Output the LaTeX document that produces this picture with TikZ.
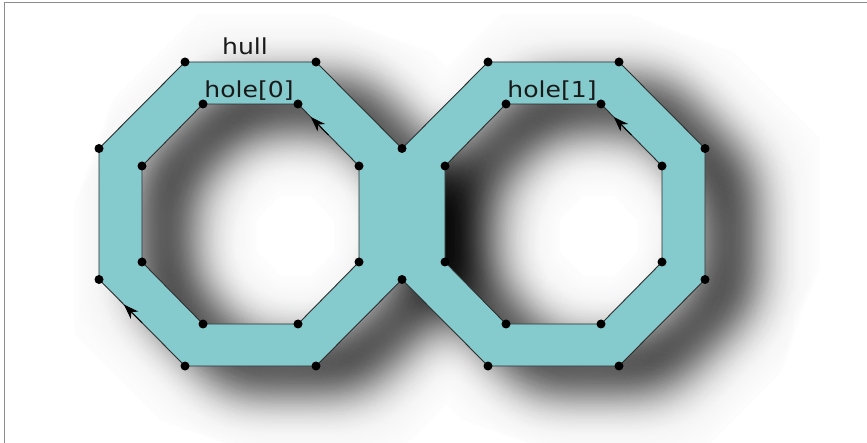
\documentclass[tikz,border=0pt]{standalone}
\usepackage{fontspec}
\newfontfamily\labfont[FakeStretch=1.14]{DejaVu Sans}
\usetikzlibrary{calc,arrows.meta}
\definecolor{hullfill}{RGB}{133,202,205}
\definecolor{edgecol}{RGB}{45,45,45}
\definecolor{framecol}{RGB}{140,140,140}
\definecolor{textcol}{RGB}{25,25,25}
\newcommand\hullshape{%
  (185,62) -- (316,62) -- (402,148.5) -- (488,62) -- (619,62) -- (705,148.5) -- (705,279.5) -- (619,366) -- (488,366) -- (402,279.5) -- (316,366) -- (185,366) -- (99,279.5) -- (99,148.5) -- cycle
  (203,104) -- (298,104) -- (359,166) -- (359,262) -- (298,324) -- (203,324) -- (142,262) -- (142,166) -- cycle
  (506,104) -- (601,104) -- (662,166) -- (662,262) -- (601,324) -- (506,324) -- (445,262) -- (445,166) -- cycle}
\def\blurofs{9,-9,8,-8,7,-7,6,-6,5,-5,4,-4,3,-3,2,-2,1,-1,0}
\tikzset{
  edgeline/.style={draw=edgecol, line width=0.9pt, line join=round},
  vdot/.style={fill=black},
  dirarrow/.style={draw=black, line width=0.9pt, -{Stealth[length=15pt,width=10.5pt,inset=4.5pt]}},
  lab/.style={text=textcol, font=\labfont\fontsize{22pt}{26pt}\selectfont, anchor=base, inner sep=0pt},
  frameline/.style={draw=framecol, line width=1.5pt}
}
\begin{document}
\begin{tikzpicture}[x=1pt,y=-1pt]
\useasboundingbox (0,0) rectangle (867,443);
% blurred shadow: separable running average of shifted copies
\gdef\Wout{0}
\foreach \j in \blurofs {%
  \pgfmathsetmacro\wj{exp(-36*(\j)*(\j)/1352)}%
  \pgfmathsetmacro\tmpW{\Wout+\wj}\global\let\Wout\tmpW
  \pgfmathsetmacro\aj{\wj/\Wout}%
  \begin{scope}[opacity=\aj]
  \begin{scope}[transparency group]
    \gdef\Win{0}%
    \foreach \i in \blurofs {%
      \pgfmathsetmacro\wi{exp(-36*(\i)*(\i)/1352)}%
      \pgfmathsetmacro\tmpV{\Win+\wi}\global\let\Win\tmpV
      \pgfmathsetmacro\ai{\wi/\Win}%
      \pgfmathsetmacro\px{45+6*((\i)*cos(20)-(\j)*sin(20))}%
      \pgfmathsetmacro\py{22+6*((\i)*sin(20)+(\j)*cos(20))}%
      \begin{scope}[opacity=\ai]
      \begin{scope}[transparency group]
        \fill[white,fill opacity=1] (-10,-10) rectangle (877,453);
        \fill[black,fill opacity=1,even odd rule,shift={(\px,\py)}] \hullshape;
      \end{scope}
      \end{scope}
    }%
  \end{scope}
  \end{scope}
}
% named vertices
\coordinate (H1) at (185,62);   \coordinate (H2) at (316,62);
\coordinate (H3) at (402,148.5); \coordinate (H4) at (488,62);
\coordinate (H5) at (619,62);   \coordinate (H6) at (705,148.5);
\coordinate (H7) at (705,279.5); \coordinate (H8) at (619,366);
\coordinate (H9) at (488,366);  \coordinate (H10) at (402,279.5);
\coordinate (H11) at (316,366); \coordinate (H12) at (185,366);
\coordinate (H13) at (99,279.5); \coordinate (H14) at (99,148.5);
\coordinate (A1) at (203,104); \coordinate (A2) at (298,104);
\coordinate (A3) at (359,166); \coordinate (A4) at (359,262);
\coordinate (A5) at (298,324); \coordinate (A6) at (203,324);
\coordinate (A7) at (142,262); \coordinate (A8) at (142,166);
\coordinate (B1) at (506,104); \coordinate (B2) at (601,104);
\coordinate (B3) at (662,166); \coordinate (B4) at (662,262);
\coordinate (B5) at (601,324); \coordinate (B6) at (506,324);
\coordinate (B7) at (445,262); \coordinate (B8) at (445,166);
% polygon with holes
\fill[hullfill,even odd rule] \hullshape;
\draw[edgeline] (H1) -- (H2) -- (H3) -- (H4) -- (H5) -- (H6) -- (H7) -- (H8) -- (H9) -- (H10) -- (H11) -- (H12) -- (H13) -- (H14) -- cycle;
\draw[edgeline] (A1) -- (A2) -- (A3) -- (A4) -- (A5) -- (A6) -- (A7) -- (A8) -- cycle;
\draw[edgeline] (B1) -- (B2) -- (B3) -- (B4) -- (B5) -- (B6) -- (B7) -- (B8) -- cycle;
% direction arrows
\draw[dirarrow] ($(H12)!0.5!(H13)$) -- ($(H12)!0.71!(H13)$);
\draw[dirarrow] ($(A3)!0.5!(A2)$) -- ($(A3)!0.79!(A2)$);
\draw[dirarrow] ($(B3)!0.5!(B2)$) -- ($(B3)!0.79!(B2)$);
% vertices
\foreach \v in {H1,H2,H3,H4,H5,H6,H7,H8,H9,H10,H11,H12,H13,H14,A1,A2,A3,A4,A5,A6,A7,A8,B1,B2,B3,B4,B5,B6,B7,B8}
  \fill[vdot] (\v) circle (4.5pt);
% labels
\node[lab] (lhull) at (245,55) {hull};
\node[lab] (lh0) at (249,98) {hole[0]};
\node[lab] (lh1) at (552,98) {hole[1]};
% frame
\coordinate (F1) at (4.5,443); \coordinate (F2) at (4.5,2.5); \coordinate (F3) at (867,2.5);
\draw[frameline] (F1) -- (F2) -- (F3);
\end{tikzpicture}
\end{document}
